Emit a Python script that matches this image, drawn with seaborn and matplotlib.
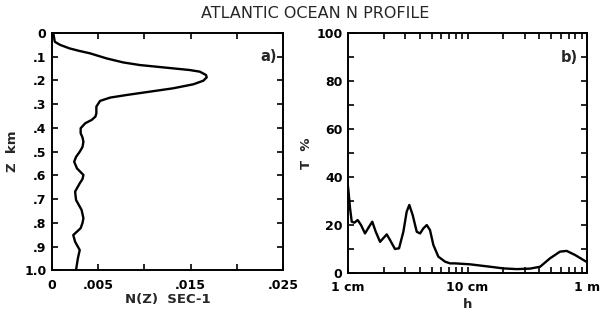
import matplotlib
matplotlib.use("Agg")
import matplotlib.pyplot as plt
import matplotlib.ticker as mticker
import seaborn as sns
import pandas as pd

# ---- data: panel a) buoyancy frequency profile ----
z_km = [0.0, 0.037, 0.05, 0.065, 0.075, 0.0856, 0.107, 0.124, 0.135, 0.142, 0.149,
        0.156, 0.163, 0.177, 0.187, 0.201, 0.216, 0.233, 0.247, 0.261, 0.272,
        0.286, 0.310, 0.338, 0.352, 0.366, 0.380, 0.401, 0.422, 0.440, 0.458,
        0.48, 0.50, 0.522, 0.542, 0.570, 0.598, 0.615, 0.633, 0.668, 0.703,
        0.745, 0.780, 0.800, 0.822, 0.851, 0.879, 0.914, 0.949, 0.998]
n_sec = [0.00014, 0.0003, 0.00087, 0.0019, 0.0029, 0.0041, 0.0059, 0.0077, 0.0095,
         0.0113, 0.0131, 0.0149, 0.0160, 0.01667, 0.01674, 0.01637, 0.0153, 0.0131,
         0.0106, 0.0081, 0.0063, 0.0052, 0.0048, 0.0048, 0.0047, 0.0043, 0.0036,
         0.0031, 0.0031, 0.0033, 0.0034, 0.0033, 0.0030, 0.0026, 0.0024, 0.0027,
         0.0034, 0.0033, 0.0030, 0.0025, 0.0026, 0.0032, 0.0034, 0.0033, 0.0031,
         0.0023, 0.0025, 0.0030, 0.0028, 0.0026]

# ---- data: panel b) T % versus h (cm) ----
h_cm = [1.0, 1.007, 1.04, 1.074, 1.13, 1.205, 1.285, 1.387, 1.50, 1.596, 1.706,
        1.854, 1.972, 2.109, 2.244, 2.472, 2.673, 2.904, 3.097, 3.258, 3.475,
        3.758, 4.009, 4.266, 4.560, 4.853, 5.176, 5.70, 6.49, 7.14, 7.85, 10.5,
        15.4, 19.95, 25.8, 33.3, 40.5, 49.0, 59.4, 67.6, 79.4, 96.2, 100.0]
t_pct = [36.0, 34.5, 26.9, 21.3, 20.9, 22.0, 19.9, 16.4, 19.2, 21.3, 17.1,
         12.9, 14.4, 16.0, 13.7, 9.9, 10.2, 17.1, 25.5, 28.3, 24.1,
         17.1, 16.4, 18.5, 19.9, 17.8, 11.6, 6.7, 4.6, 3.9, 3.9, 3.5,
         2.5, 1.8, 1.5, 1.7, 2.5, 6.0, 8.8, 9.1, 7.4, 4.9, 4.5]

a_xticks = [0, 0.005, 0.010, 0.015, 0.020, 0.025]
a_xlabels = ["0", ".005", "", ".015", "", ".025"]
a_yticks = [0, 0.1, 0.2, 0.3, 0.4, 0.5, 0.6, 0.7, 0.8, 0.9, 1.0]
a_ylabels = ["0", ".1", ".2", ".3", ".4", ".5", ".6", ".7", ".8", ".9", "1.0"]
b_yticks = [0, 10, 20, 30, 40, 50, 60, 70, 80, 90, 100]
b_ylabels = ["0", "", "20", "", "40", "", "60", "", "80", "", "100"]
b_xticks = [1, 10, 100]
b_xlabels = ["1 cm", "10 cm", "1 m"]

sns.set_theme(style="ticks")
plt.rcParams['font.family'] = ['DejaVu Sans']
plt.rcParams['font.weight'] = 'bold'
plt.rcParams['axes.labelweight'] = 'bold'

df_a = pd.DataFrame({"N": n_sec, "z": z_km})
df_b = pd.DataFrame({"h": h_cm, "T": t_pct})

fig = plt.figure(figsize=(6.04, 3.22), dpi=100)
ax1 = fig.add_axes([0.0861, 0.160, 0.3825, 0.7376])
ax2 = fig.add_axes([0.5762, 0.1531, 0.3957, 0.7435])

fs = 9
for ax in (ax1, ax2):
    for s in ax.spines.values():
        s.set_linewidth(1.4)
        s.set_color("black")
        s.set_visible(True)

# panel a
sns.lineplot(data=df_a, x="N", y="z", sort=False, estimator=None, orient="y",
             color="black", linewidth=1.7, ax=ax1, solid_joinstyle="round")
ax1.set_xlim(0, 0.025)
ax1.set_ylim(1.0, 0)
ax1.set_xticks(a_xticks)
ax1.set_xticklabels(a_xlabels)
ax1.set_yticks(a_yticks)
ax1.set_yticklabels(a_ylabels)
ax1.tick_params(direction="in", length=4.5, width=1.2, top=True, right=True,
                labelsize=fs, colors="black", pad=4)
ax1.tick_params(axis="x", pad=6)
ax1.set_xlabel("N(Z)  SEC-1", fontsize=fs + 0.5, labelpad=1)
ax1.set_ylabel("Z  km", fontsize=fs + 0.5, labelpad=4)
ax1.text(0.974, 0.9, "a)", transform=ax1.transAxes, ha="right", va="center",
         fontsize=fs + 1.5)

# panel b
sns.lineplot(data=df_b, x="h", y="T", sort=False, estimator=None,
             color="black", linewidth=1.7, ax=ax2, solid_joinstyle="round")
ax2.set_xscale("log")
ax2.set_xlim(1, 100)
ax2.set_ylim(0, 100)
ax2.set_xticks(b_xticks)
ax2.set_xticklabels(b_xlabels)
ax2.xaxis.set_minor_locator(mticker.LogLocator(base=10, subs=range(2, 10), numticks=20))
ax2.xaxis.set_minor_formatter(mticker.NullFormatter())
ax2.set_yticks(b_yticks)
ax2.set_yticklabels(b_ylabels)
ax2.tick_params(which="both", direction="in", length=4.5, width=1.2, top=True,
                right=True, labelsize=fs, colors="black", pad=4)
ax2.tick_params(axis="x", which="both", pad=6)
ax2.set_xlabel("h", fontsize=fs + 0.5, labelpad=3)
ax2.set_ylabel("T  %", fontsize=fs + 0.5, labelpad=2)
ax2.text(0.962, 0.9, "b)", transform=ax2.transAxes, ha="right", va="center",
         fontsize=fs + 1.5)

fig.text(315 / 604, 1 - 14 / 322, "ATLANTIC OCEAN N PROFILE", ha="center",
         va="center", fontsize=11.5, fontweight="normal")

fig.savefig("out.png", dpi=100)
